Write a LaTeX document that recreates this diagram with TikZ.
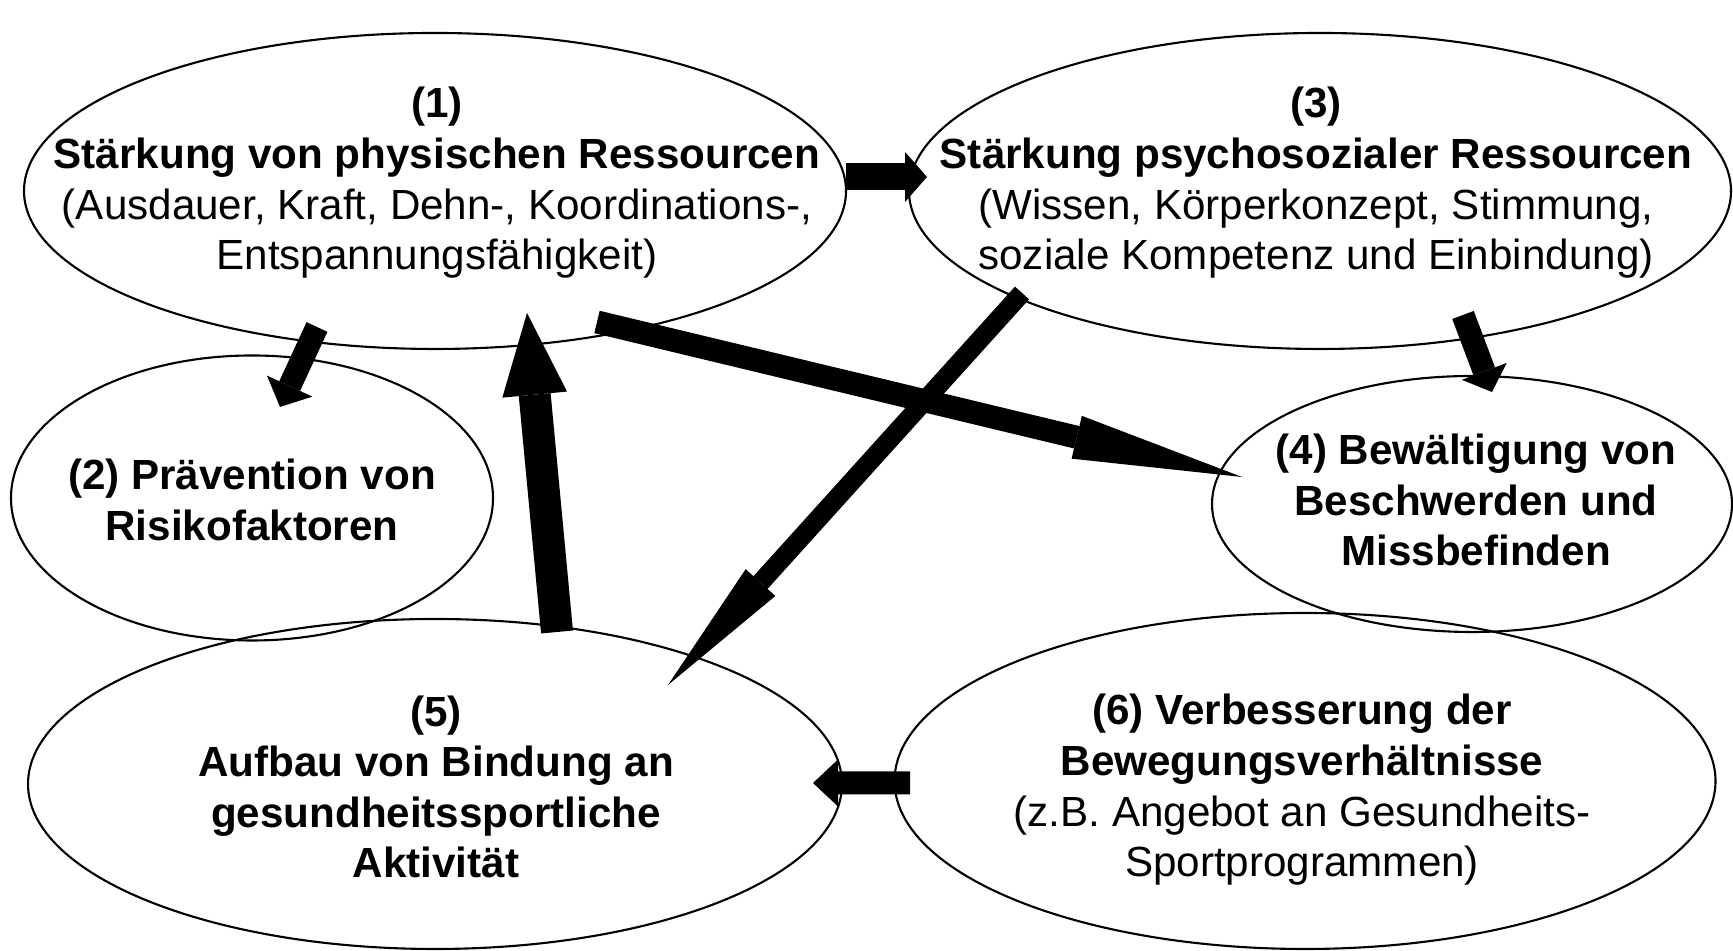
\documentclass[tikz,border=0pt]{standalone}
\usepackage{fontspec}
\setmainfont{Liberation Sans}
\usetikzlibrary{arrows.meta,shapes.geometric}

\begin{document}
\begin{tikzpicture}[
    bubble/.style={draw, ellipse, line width=0.6pt, inner sep=0pt},
    txt/.style={align=center, font=\fontsize{12}{14.4}\selectfont},
    fat/.style n args={3}{line width=#1cm, -{Triangle[length=#2cm, width=#3cm, line width'=0pt]}}
  ]
\useasboundingbox (0,0) rectangle (17.33,9.51);

% ellipses
\node[bubble, minimum width=8.22cm, minimum height=3.16cm] (e1) at (4.35,7.60) {};
\node[bubble, minimum width=4.82cm, minimum height=2.85cm] (e2) at (2.52,4.53) {};
\node[bubble, minimum width=8.22cm, minimum height=3.16cm] (e3) at (13.20,7.60) {};
\node[bubble, minimum width=5.20cm, minimum height=2.56cm] (e4) at (14.72,4.47) {};
\node[bubble, minimum width=8.14cm, minimum height=3.30cm] (e5) at (4.35,1.67) {};
\node[bubble, minimum width=8.21cm, minimum height=3.36cm] (e6) at (13.05,1.70) {};

% texts
\node[txt] (t1) at (4.37,7.68) {\textbf{(1)}\\\textbf{Stärkung von physischen Ressourcen}\\(Ausdauer, Kraft, Dehn-, Koordinations-,\\Entspannungsfähigkeit)};
\node[txt] (t2) at (2.52,4.51) {\textbf{(2) Prävention von}\\\textbf{Risikofaktoren}};
\node[txt] (t3) at (13.16,7.68) {\textbf{(3)}\\\textbf{Stärkung psychosozialer Ressourcen}\\(Wissen, Körperkonzept, Stimmung,\\soziale Kompetenz und Einbindung)};
\node[txt] (t4) at (14.76,4.51) {\textbf{(4) Bewältigung von}\\\textbf{Beschwerden und}\\\textbf{Missbefinden}};
\node[txt] (t5) at (4.36,1.64) {\textbf{(5)}\\\textbf{Aufbau von Bindung an}\\\textbf{gesundheitssportliche}\\\textbf{Aktivität}};
\node[txt] (t6) at (13.02,1.61) {\textbf{(6) Verbesserung der}\\\textbf{Bewegungsverhältnisse}\\(z.B. Angebot an Gesundheits-\\Sportprogrammen)};

% arrows
\path
  ([shift={(4.11,0.14)}]e1.center)   edge[fat={0.27}{0.22}{0.50}] ([shift={(-3.93,0.14)}]e3.center)
  ([shift={(-1.18,-1.36)}]e1.center) edge[fat={0.23}{0.23}{0.50}] ([shift={(0.28,0.91)}]e2.center)
  ([shift={(1.62,-1.31)}]e1.center)  edge[fat={0.23}{1.70}{0.44}] ([shift={(-2.30,0.27)}]e4.center)
  ([shift={(-2.98,-1.02)}]e3.center) edge[fat={0.19}{1.38}{0.40}] ([shift={(2.33,0.99)}]e5.center)
  ([shift={(1.43,-1.24)}]e3.center)  edge[fat={0.23}{0.22}{0.48}] ([shift={(0.20,1.12)}]e4.center)
  ([shift={(1.22,1.52)}]e5.center)   edge[fat={0.32}{0.82}{0.65}] ([shift={(0.92,-1.22)}]e1.center)
  ([shift={(-3.95,-0.02)}]e6.center) edge[fat={0.23}{0.25}{0.47}] ([shift={(3.78,0.01)}]e5.center);
\end{tikzpicture}
\end{document}
